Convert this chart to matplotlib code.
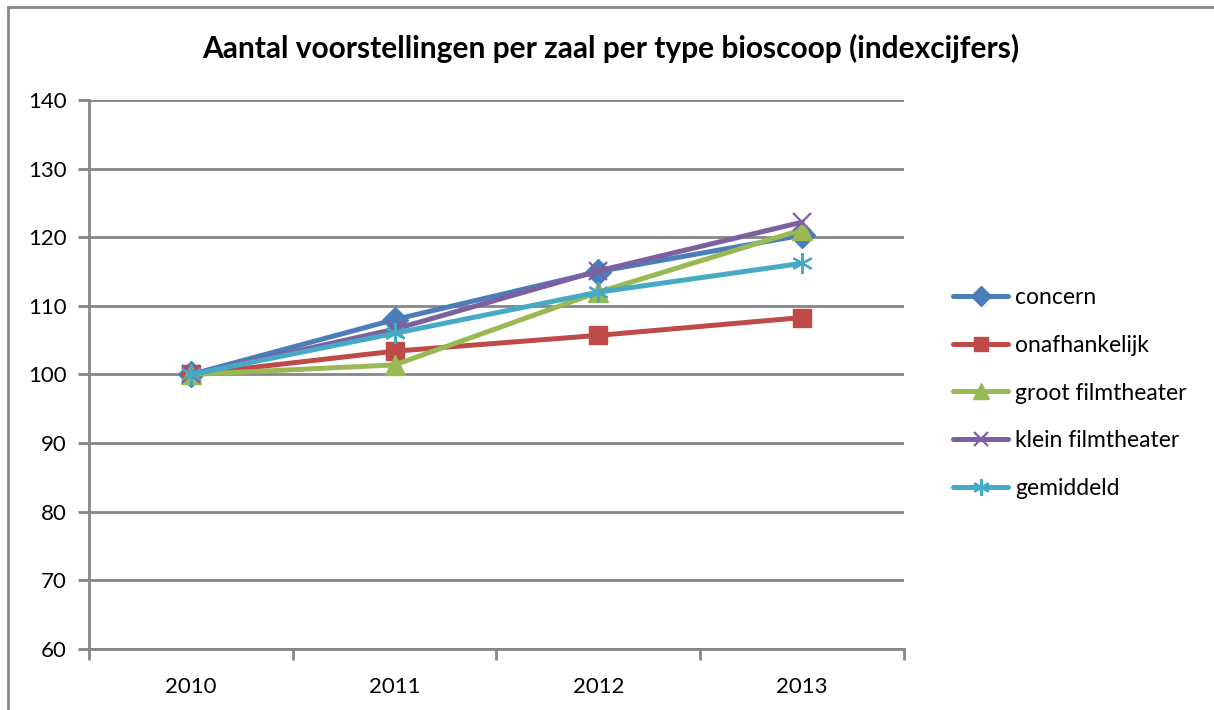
import matplotlib.pyplot as plt
from matplotlib.lines import Line2D

years = ["2010", "2011", "2012", "2013"]
concern = [100, 108.0, 115.0, 120.3]
onafhankelijk = [100, 103.4, 105.7, 108.3]
groot_filmtheater = [100, 101.4, 112.0, 121.1]
klein_filmtheater = [100, 106.6, 115.1, 122.2]
gemiddeld = [100, 106.0, 112.0, 116.2]

plt.rcParams['font.family'] = ['Lato', 'DejaVu Sans']

fig = plt.figure(figsize=(12.14, 7.1), dpi=100)
ax = fig.add_axes([89 / 1214, 1 - 649 / 710, 815 / 1214, 549 / 710])

# chart border (only top and left visible in the original)
fig.add_artist(Line2D([8 / 1214, 1], [1 - 7 / 710, 1 - 7 / 710], color="#888888", lw=2))
fig.add_artist(Line2D([8 / 1214, 8 / 1214], [0, 1 - 7 / 710], color="#888888", lw=2))

x = range(len(years))
series = [
    (concern, "concern", "#4A7EBB", "D", 13),
    (onafhankelijk, "onafhankelijk", "#BE4B48", "s", 13),
    (groot_filmtheater, "groot filmtheater", "#98B954", "^", 14),
    (klein_filmtheater, "klein filmtheater", "#7D60A0", "x", 13),
    (gemiddeld, "gemiddeld", "#46AAC5", (6, 2, 0), 15),
]
for vals, name, col, mk, ms in series:
    ax.plot(x, vals, color=col, lw=3.6, marker=mk, markersize=ms,
            markeredgewidth=1.6 if mk in ("x",) or isinstance(mk, tuple) else 1,
            markeredgecolor=col, markerfacecolor=col, label=name,
            solid_capstyle="round", zorder=3)

ax.set_ylim(60, 140)
ax.set_yticks(range(60, 141, 10))
ax.set_xlim(-0.5, 3.5)
ax.set_xticks([i for i in x])
ax.set_xticklabels(years)
ax.set_xticks([-0.5, 0.5, 1.5, 2.5, 3.5], minor=True)
ax.tick_params(axis="x", which="major", length=0, pad=20, labelsize=16)
ax.tick_params(axis="x", which="minor", length=8, width=2, color="#868686")
ax.tick_params(axis="y", length=8, width=2, color="#868686", labelsize=16, pad=8)

ax.grid(axis="y", color="#868686", lw=2)
ax.set_axisbelow(True)
for s in ["top", "right"]:
    ax.spines[s].set_visible(False)
for s in ["left", "bottom"]:
    ax.spines[s].set_color("#868686")
    ax.spines[s].set_linewidth(2)

fig.suptitle("Aantal voorstellingen per zaal per type bioscoop (indexcijfers)",
             x=611 / 1214, y=1 - 48 / 710, va="center", fontsize=21.5, fontweight="bold")

ax.legend(loc="center left", bbox_to_anchor=(942 / 1214, 1 - 393 / 710),
          bbox_transform=fig.transFigure, frameon=False, fontsize=16.5,
          handlelength=2.4, handletextpad=0.3, labelspacing=1.17, borderpad=0,
          markerscale=0.8)

fig.savefig("out.png", dpi=100)
